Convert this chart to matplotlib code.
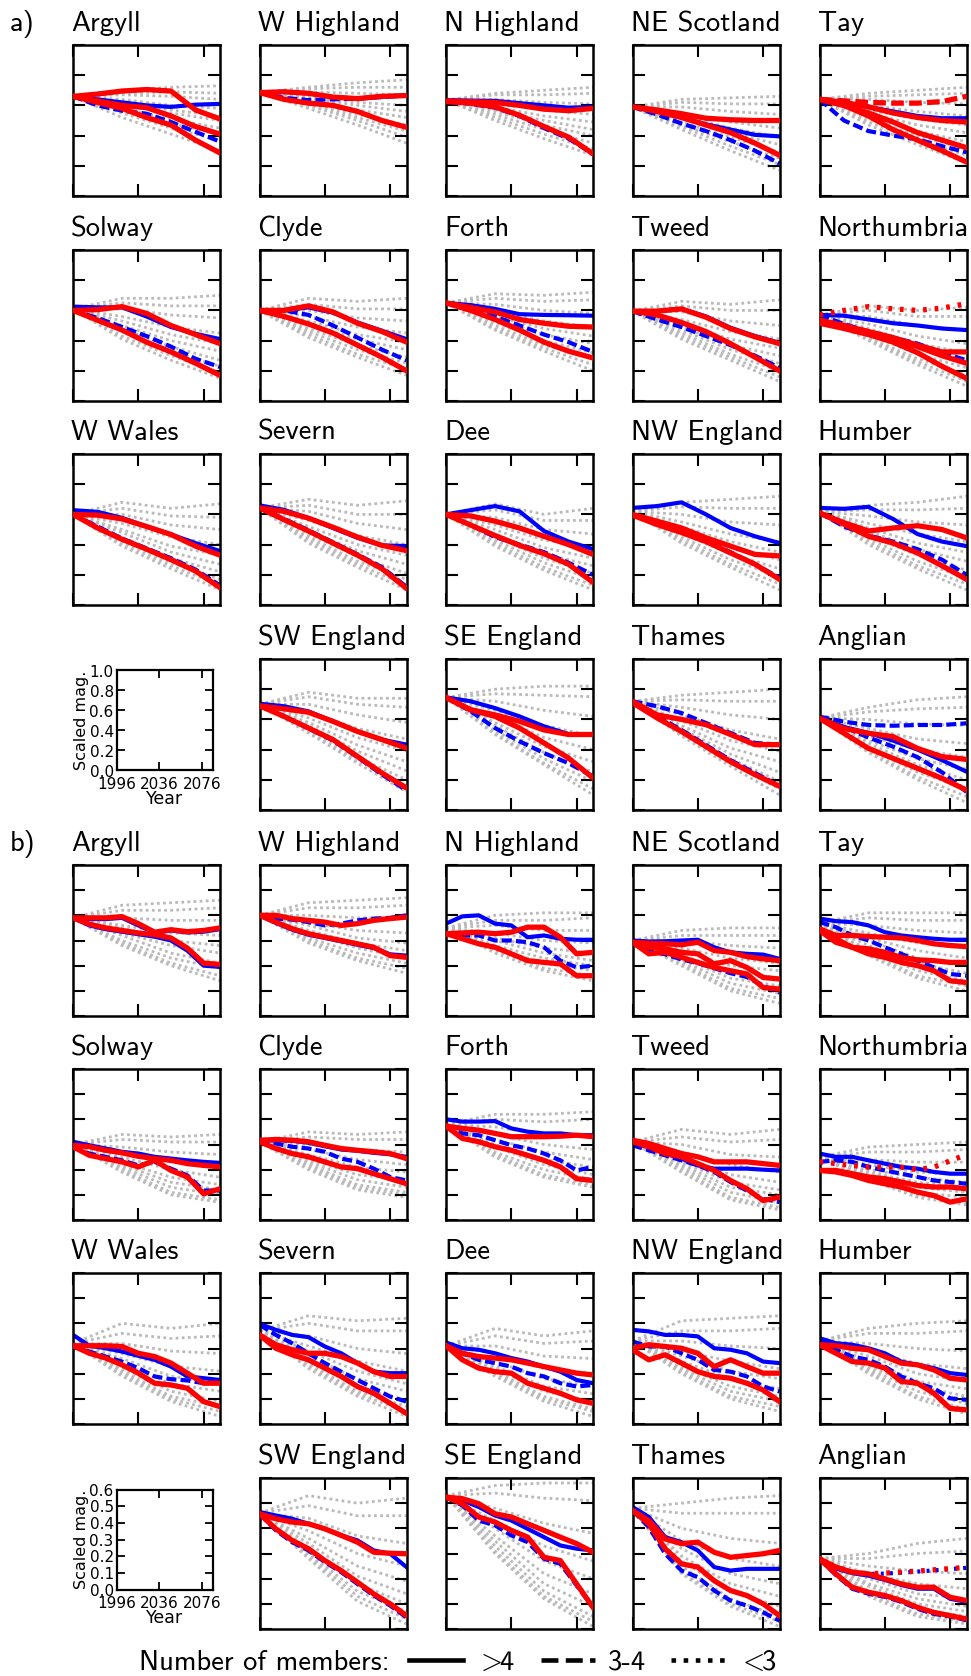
import matplotlib
matplotlib.use("Agg")
import matplotlib.pyplot as plt
from matplotlib.lines import Line2D

plt.rcParams["mathtext.fontset"] = "cm"

# ---------------------------------------------------------------- data
years_a = [1996, 2011, 2026, 2041, 2056, 2071, 2086]
years_b = [1996, 2006, 2016, 2026, 2036, 2046, 2056, 2066, 2076, 2086]
years_grey = [1996, 2026, 2056, 2086]

regions = ["Argyll", "W Highland", "N Highland", "NE Scotland", "Tay",
           "Solway", "Clyde", "Forth", "Tweed", "Northumbria",
           "W Wales", "Severn", "Dee", "NW England", "Humber",
           "SW England", "SE England", "Thames", "Anglian"]

member_classes = [">4", "3-4", "<3"]
member_labels = [r"$>\!\!$4", "3-4", r"$<\!\!$3"]

yticks_a = [0.0, 0.2, 0.4, 0.6, 0.8, 1.0]
yticks_b = [0.0, 0.1, 0.2, 0.3, 0.4, 0.5, 0.6]
xticks = [1996, 2036, 2076]

# ---- a) panels: (members, values at years_a)
a_argyll_red = [(">4", [0.66, 0.675, 0.695, 0.705, 0.695, 0.57, 0.51]),
                (">4", [0.66, 0.63, 0.6, 0.585, 0.53, 0.46, 0.41]),
                (">4", [0.66, 0.62, 0.58, 0.52, 0.47, 0.37, 0.285])]
a_argyll_blue = [(">4", [0.66, 0.64, 0.62, 0.6, 0.59, 0.605, 0.61]),
                 ("3-4", [0.66, 0.6, 0.565, 0.545, 0.49, 0.425, 0.36])]
a_argyll_grey = [[0.66, 0.70, 0.72, 0.73], [0.66, 0.68, 0.69, 0.68], [0.66, 0.67, 0.66, 0.64],
                 [0.66, 0.64, 0.6, 0.58], [0.66, 0.62, 0.57, 0.53], [0.66, 0.6, 0.55, 0.5],
                 [0.66, 0.58, 0.51, 0.45], [0.66, 0.57, 0.48, 0.41], [0.66, 0.55, 0.45, 0.37],
                 [0.66, 0.52, 0.41, 0.3]]

a_whighland_red = [(">4", [0.685, 0.69, 0.68, 0.655, 0.645, 0.66, 0.665]),
                   (">4", [0.685, 0.64, 0.615, 0.6, 0.56, 0.5, 0.455])]
a_whighland_blue = [(">4", [0.685, 0.69, 0.68, 0.655, 0.645, 0.66, 0.665]),
                    ("3-4", [0.685, 0.65, 0.635, 0.64, 0.645, 0.655, 0.665])]
a_whighland_grey = [[0.685, 0.72, 0.75, 0.77], [0.685, 0.71, 0.72, 0.72], [0.685, 0.69, 0.68, 0.67],
                    [0.685, 0.66, 0.62, 0.6], [0.685, 0.65, 0.6, 0.56], [0.685, 0.64, 0.57, 0.52],
                    [0.685, 0.62, 0.54, 0.47], [0.685, 0.61, 0.52, 0.43], [0.685, 0.6, 0.5, 0.39],
                    [0.685, 0.58, 0.47, 0.35]]

a_nhighland_red = [(">4", [0.63, 0.625, 0.62, 0.6, 0.575, 0.565, 0.58]),
                   (">4", [0.625, 0.615, 0.59, 0.535, 0.46, 0.39, 0.28])]
a_nhighland_blue = [(">4", [0.635, 0.632, 0.63, 0.615, 0.6, 0.585, 0.59]),
                    ("3-4", [0.63, 0.61, 0.585, 0.53, 0.45, 0.38, 0.28])]
a_nhighland_grey = [[0.635, 0.68, 0.7, 0.72], [0.635, 0.67, 0.67, 0.68], [0.635, 0.64, 0.62, 0.61],
                    [0.635, 0.61, 0.57, 0.54], [0.635, 0.59, 0.53, 0.49], [0.635, 0.57, 0.5, 0.44],
                    [0.635, 0.56, 0.47, 0.4], [0.635, 0.54, 0.44, 0.35], [0.635, 0.52, 0.41, 0.31],
                    [0.635, 0.5, 0.38, 0.27]]

a_nescotland_red = [(">4", [0.59, 0.57, 0.545, 0.515, 0.505, 0.5, 0.5]),
                    (">4", [0.59, 0.56, 0.52, 0.47, 0.42, 0.35, 0.27])]
a_nescotland_blue = [(">4", [0.59, 0.56, 0.52, 0.475, 0.44, 0.405, 0.395]),
                     ("3-4", [0.59, 0.54, 0.48, 0.43, 0.37, 0.3, 0.215])]
a_nescotland_grey = [[0.59, 0.64, 0.65, 0.66], [0.59, 0.62, 0.61, 0.61], [0.59, 0.59, 0.56, 0.54],
                     [0.59, 0.55, 0.49, 0.45], [0.59, 0.53, 0.45, 0.39], [0.59, 0.51, 0.42, 0.34],
                     [0.59, 0.49, 0.39, 0.29], [0.59, 0.47, 0.36, 0.25], [0.59, 0.46, 0.33, 0.21],
                     [0.59, 0.44, 0.3, 0.17]]

a_tay_red = [("3-4", [0.64, 0.63, 0.62, 0.615, 0.615, 0.625, 0.66]),
             (">4", [0.64, 0.62, 0.59, 0.55, 0.52, 0.5, 0.49]),
             (">4", [0.64, 0.6, 0.55, 0.49, 0.42, 0.37, 0.32]),
             (">4", [0.64, 0.6, 0.53, 0.44, 0.37, 0.3, 0.225])]
a_tay_blue = [(">4", [0.64, 0.62, 0.59, 0.56, 0.53, 0.515, 0.515]),
              ("3-4", [0.64, 0.5, 0.43, 0.4, 0.375, 0.33, 0.29])]
a_tay_grey = [[0.64, 0.68, 0.7, 0.72], [0.64, 0.66, 0.67, 0.68], [0.64, 0.64, 0.62, 0.61],
              [0.64, 0.6, 0.56, 0.53], [0.64, 0.57, 0.51, 0.47], [0.64, 0.55, 0.47, 0.42],
              [0.64, 0.53, 0.43, 0.36], [0.64, 0.51, 0.4, 0.31], [0.64, 0.49, 0.37, 0.27],
              [0.64, 0.47, 0.34, 0.22]]

a_solway_red = [(">4", [0.6, 0.605, 0.625, 0.58, 0.5, 0.44, 0.38]),
                (">4", [0.6, 0.535, 0.47, 0.39, 0.325, 0.25, 0.17])]
a_solway_blue = [(">4", [0.625, 0.62, 0.62, 0.56, 0.49, 0.445, 0.41]),
                 ("3-4", [0.6, 0.55, 0.49, 0.43, 0.36, 0.28, 0.225])]
a_solway_grey = [[0.61, 0.68, 0.68, 0.7], [0.61, 0.65, 0.63, 0.63], [0.61, 0.61, 0.57, 0.55],
                 [0.61, 0.56, 0.49, 0.45], [0.61, 0.53, 0.44, 0.38], [0.61, 0.5, 0.4, 0.33],
                 [0.61, 0.48, 0.36, 0.27], [0.61, 0.46, 0.33, 0.23], [0.61, 0.43, 0.3, 0.19],
                 [0.61, 0.41, 0.27, 0.15]]

a_clyde_red = [(">4", [0.6, 0.6, 0.63, 0.59, 0.515, 0.46, 0.39]),
               (">4", [0.6, 0.56, 0.51, 0.45, 0.37, 0.29, 0.2])]
a_clyde_blue = [(">4", [0.6, 0.6, 0.62, 0.585, 0.52, 0.465, 0.41]),
                ("3-4", [0.6, 0.6, 0.57, 0.5, 0.42, 0.34, 0.27])]
a_clyde_grey = [[0.6, 0.68, 0.66, 0.68], [0.6, 0.64, 0.61, 0.61], [0.6, 0.6, 0.55, 0.53],
                [0.6, 0.56, 0.49, 0.45], [0.6, 0.53, 0.44, 0.39], [0.6, 0.51, 0.41, 0.34],
                [0.6, 0.48, 0.37, 0.29], [0.6, 0.46, 0.34, 0.25], [0.6, 0.44, 0.31, 0.21],
                [0.6, 0.42, 0.29, 0.17]]

a_forth_red = [(">4", [0.65, 0.62, 0.59, 0.54, 0.515, 0.495, 0.49]),
               (">4", [0.65, 0.6, 0.54, 0.47, 0.39, 0.33, 0.285])]
a_forth_blue = [(">4", [0.65, 0.635, 0.61, 0.575, 0.57, 0.568, 0.565]),
                ("3-4", [0.65, 0.61, 0.56, 0.5, 0.44, 0.39, 0.325])]
a_forth_grey = [[0.65, 0.71, 0.7, 0.72], [0.65, 0.68, 0.66, 0.67], [0.65, 0.64, 0.6, 0.58],
                [0.65, 0.59, 0.53, 0.49], [0.65, 0.56, 0.48, 0.43], [0.65, 0.54, 0.44, 0.38],
                [0.65, 0.52, 0.4, 0.32], [0.65, 0.5, 0.37, 0.28], [0.65, 0.48, 0.35, 0.24],
                [0.65, 0.47, 0.33, 0.2]]

a_tweed_red = [(">4", [0.595, 0.595, 0.61, 0.555, 0.48, 0.425, 0.38]),
               (">4", [0.595, 0.57, 0.52, 0.46, 0.38, 0.29, 0.2])]
a_tweed_blue = [(">4", [0.595, 0.595, 0.61, 0.56, 0.485, 0.43, 0.385]),
                ("3-4", [0.595, 0.54, 0.49, 0.43, 0.37, 0.3, 0.22])]
a_tweed_grey = [[0.595, 0.66, 0.64, 0.67], [0.595, 0.63, 0.6, 0.6], [0.595, 0.59, 0.53, 0.5],
                [0.595, 0.54, 0.46, 0.41], [0.595, 0.51, 0.41, 0.35], [0.595, 0.49, 0.37, 0.3],
                [0.595, 0.47, 0.34, 0.25], [0.595, 0.45, 0.31, 0.2], [0.595, 0.43, 0.29, 0.16],
                [0.595, 0.41, 0.27, 0.13]]

a_northumbria_red = [("<3", [0.57, 0.6, 0.625, 0.61, 0.6, 0.615, 0.645]),
                     (">4", [0.535, 0.5, 0.46, 0.42, 0.37, 0.325, 0.325]),
                     (">4", [0.525, 0.49, 0.45, 0.41, 0.36, 0.3, 0.25]),
                     (">4", [0.515, 0.48, 0.44, 0.39, 0.32, 0.23, 0.15])]
a_northumbria_blue = [(">4", [0.57, 0.565, 0.54, 0.515, 0.5, 0.48, 0.47]),
                      ("3-4", [0.57, 0.51, 0.46, 0.42, 0.38, 0.32, 0.27])]
a_northumbria_grey = [[0.57, 0.63, 0.6, 0.62], [0.57, 0.6, 0.56, 0.56], [0.57, 0.56, 0.5, 0.47],
                      [0.57, 0.51, 0.43, 0.38], [0.57, 0.48, 0.38, 0.32], [0.57, 0.46, 0.35, 0.27],
                      [0.57, 0.44, 0.31, 0.22], [0.57, 0.42, 0.28, 0.17], [0.57, 0.41, 0.26, 0.13],
                      [0.57, 0.4, 0.24, 0.1]]

a_wwales_red = [(">4", [0.6, 0.595, 0.57, 0.52, 0.467, 0.39, 0.33]),
                (">4", [0.6, 0.51, 0.435, 0.37, 0.3, 0.225, 0.115])]
a_wwales_blue = [(">4", [0.628, 0.617, 0.577, 0.52, 0.467, 0.41, 0.357]),
                 ("3-4", [0.6, 0.52, 0.44, 0.375, 0.31, 0.235, 0.13])]
a_wwales_grey = [[0.6, 0.68, 0.64, 0.67], [0.6, 0.64, 0.59, 0.58], [0.6, 0.6, 0.53, 0.5],
                 [0.6, 0.54, 0.45, 0.4], [0.6, 0.5, 0.39, 0.33], [0.6, 0.48, 0.35, 0.27],
                 [0.6, 0.45, 0.31, 0.22], [0.6, 0.43, 0.28, 0.17], [0.6, 0.41, 0.26, 0.13],
                 [0.6, 0.39, 0.24, 0.1]]

a_severn_red = [(">4", [0.643, 0.62, 0.575, 0.515, 0.45, 0.395, 0.36]),
                (">4", [0.643, 0.565, 0.49, 0.41, 0.33, 0.24, 0.11])]
a_severn_blue = [(">4", [0.66, 0.63, 0.575, 0.51, 0.445, 0.395, 0.39]),
                 ("3-4", [0.643, 0.57, 0.495, 0.415, 0.335, 0.25, 0.12])]
a_severn_grey = [[0.643, 0.7, 0.66, 0.69], [0.643, 0.66, 0.6, 0.6], [0.643, 0.62, 0.54, 0.5],
                 [0.643, 0.56, 0.46, 0.4], [0.643, 0.52, 0.4, 0.33], [0.643, 0.49, 0.36, 0.27],
                 [0.643, 0.47, 0.32, 0.21], [0.643, 0.45, 0.29, 0.17], [0.643, 0.43, 0.27, 0.13],
                 [0.643, 0.41, 0.25, 0.1]]

a_dee_red = [(">4", [0.6, 0.59, 0.555, 0.51, 0.455, 0.4, 0.335]),
             (">4", [0.6, 0.53, 0.46, 0.395, 0.34, 0.27, 0.15])]
a_dee_blue = [(">4", [0.6, 0.628, 0.655, 0.62, 0.49, 0.42, 0.37]),
              ("3-4", [0.6, 0.53, 0.45, 0.4, 0.35, 0.28, 0.2])]
a_dee_grey = [[0.6, 0.67, 0.6, 0.64], [0.6, 0.63, 0.56, 0.56], [0.6, 0.58, 0.5, 0.47],
              [0.6, 0.53, 0.43, 0.38], [0.6, 0.5, 0.38, 0.31], [0.6, 0.47, 0.34, 0.26],
              [0.6, 0.45, 0.31, 0.21], [0.6, 0.43, 0.28, 0.17], [0.6, 0.41, 0.25, 0.13],
              [0.6, 0.39, 0.23, 0.1]]

a_nwengland_red = [(">4", [0.6, 0.555, 0.51, 0.445, 0.39, 0.335, 0.325]),
                   (">4", [0.595, 0.533, 0.48, 0.42, 0.345, 0.27, 0.17])]
a_nwengland_blue = [(">4", [0.643, 0.655, 0.68, 0.6, 0.51, 0.455, 0.41]),
                    ("3-4", [0.6, 0.54, 0.485, 0.425, 0.35, 0.27, 0.18])]
a_nwengland_grey = [[0.62, 0.68, 0.7, 0.72], [0.62, 0.65, 0.64, 0.64], [0.62, 0.6, 0.55, 0.53],
                    [0.62, 0.55, 0.47, 0.42], [0.62, 0.52, 0.42, 0.35], [0.62, 0.5, 0.38, 0.3],
                    [0.62, 0.47, 0.34, 0.24], [0.62, 0.45, 0.3, 0.19], [0.62, 0.43, 0.27, 0.14],
                    [0.62, 0.41, 0.25, 0.1]]

a_humber_red = [(">4", [0.61, 0.545, 0.49, 0.51, 0.525, 0.5, 0.445]),
                (">4", [0.61, 0.535, 0.455, 0.41, 0.345, 0.26, 0.17])]
a_humber_blue = [(">4", [0.643, 0.637, 0.65, 0.57, 0.47, 0.42, 0.39]),
                 ("3-4", [0.61, 0.52, 0.46, 0.42, 0.37, 0.3, 0.2])]
a_humber_grey = [[0.62, 0.66, 0.68, 0.72], [0.62, 0.63, 0.63, 0.64], [0.62, 0.59, 0.55, 0.53],
                 [0.62, 0.54, 0.47, 0.42], [0.62, 0.51, 0.41, 0.35], [0.62, 0.49, 0.37, 0.29],
                 [0.62, 0.46, 0.33, 0.23], [0.62, 0.44, 0.29, 0.18], [0.62, 0.42, 0.26, 0.14],
                 [0.62, 0.4, 0.24, 0.1]]

a_swengland_red = [(">4", [0.69, 0.67, 0.647, 0.587, 0.52, 0.466, 0.41]),
                   (">4", [0.69, 0.62, 0.543, 0.466, 0.355, 0.245, 0.146])]
a_swengland_blue = [(">4", [0.704, 0.687, 0.653, 0.587, 0.52, 0.466, 0.433]),
                    ("3-4", [0.69, 0.62, 0.54, 0.46, 0.35, 0.235, 0.13])]
a_swengland_grey = [[0.7, 0.78, 0.74, 0.74], [0.7, 0.75, 0.7, 0.68], [0.7, 0.7, 0.63, 0.58],
                    [0.7, 0.65, 0.54, 0.47], [0.7, 0.61, 0.48, 0.39], [0.7, 0.58, 0.43, 0.32],
                    [0.7, 0.56, 0.39, 0.26], [0.7, 0.54, 0.35, 0.2], [0.7, 0.52, 0.33, 0.16],
                    [0.7, 0.51, 0.31, 0.12]]

a_seengland_red = [(">4", [0.745, 0.664, 0.63, 0.587, 0.53, 0.5, 0.5]),
                   (">4", [0.745, 0.664, 0.62, 0.543, 0.444, 0.344, 0.212])]
a_seengland_blue = [(">4", [0.746, 0.72, 0.675, 0.62, 0.554, 0.503, 0.5]),
                    ("3-4", [0.745, 0.655, 0.543, 0.455, 0.377, 0.31, 0.223])]
a_seengland_grey = [[0.745, 0.8, 0.82, 0.82], [0.745, 0.77, 0.76, 0.75], [0.745, 0.72, 0.66, 0.62],
                    [0.745, 0.66, 0.56, 0.49], [0.745, 0.62, 0.48, 0.4], [0.745, 0.58, 0.42, 0.32],
                    [0.745, 0.56, 0.38, 0.25], [0.745, 0.53, 0.34, 0.19], [0.745, 0.51, 0.31, 0.14],
                    [0.745, 0.5, 0.3, 0.1]]

a_thames_red = [(">4", [0.72, 0.63, 0.6, 0.565, 0.5, 0.433, 0.433]),
                (">4", [0.71, 0.61, 0.52, 0.42, 0.32, 0.234, 0.157])]
a_thames_blue = [("3-4", [0.72, 0.687, 0.642, 0.576, 0.51, 0.444, 0.433]),
                 ("3-4", [0.72, 0.62, 0.53, 0.43, 0.33, 0.245, 0.16])]
a_thames_grey = [[0.72, 0.76, 0.78, 0.8], [0.72, 0.73, 0.72, 0.72], [0.72, 0.68, 0.63, 0.6],
                 [0.72, 0.63, 0.53, 0.47], [0.72, 0.59, 0.46, 0.39], [0.72, 0.56, 0.41, 0.32],
                 [0.72, 0.54, 0.37, 0.25], [0.72, 0.52, 0.34, 0.19], [0.72, 0.5, 0.31, 0.14],
                 [0.72, 0.49, 0.29, 0.1]]

a_anglian_red = [(">4", [0.607, 0.54, 0.508, 0.486, 0.408, 0.353, 0.335]),
                 (">4", [0.607, 0.508, 0.408, 0.342, 0.276, 0.21, 0.132])]
a_anglian_blue = [("3-4", [0.618, 0.585, 0.563, 0.558, 0.563, 0.563, 0.574]),
                  (">4", [0.607, 0.55, 0.51, 0.46, 0.4, 0.33, 0.254]),
                  ("3-4", [0.607, 0.55, 0.48, 0.42, 0.35, 0.25, 0.12])]
a_anglian_grey = [[0.61, 0.68, 0.73, 0.75], [0.61, 0.65, 0.67, 0.68], [0.61, 0.6, 0.57, 0.56],
                  [0.61, 0.54, 0.47, 0.44], [0.61, 0.49, 0.4, 0.35], [0.61, 0.46, 0.34, 0.27],
                  [0.61, 0.44, 0.3, 0.2], [0.61, 0.41, 0.25, 0.14], [0.61, 0.39, 0.22, 0.09],
                  [0.61, 0.38, 0.2, 0.05]]

# ---- b) panels: (members, values at years_b)
b_argyll_red = [(">4", [0.39, 0.39, 0.39, 0.395, 0.367, 0.333, 0.343, 0.335, 0.34, 0.35]),
                (">4", [0.39, 0.365, 0.35, 0.34, 0.33, 0.323, 0.31, 0.27, 0.21, 0.205])]
b_argyll_blue = [(">4", [0.39, 0.385, 0.385, 0.39, 0.36, 0.33, 0.34, 0.332, 0.335, 0.345]),
                 (">4", [0.39, 0.36, 0.345, 0.335, 0.325, 0.315, 0.3, 0.26, 0.2, 0.195])]
b_argyll_grey = [[0.39, 0.44, 0.45, 0.46], [0.39, 0.42, 0.42, 0.43], [0.39, 0.39, 0.38, 0.38],
                 [0.39, 0.36, 0.33, 0.32], [0.39, 0.35, 0.3, 0.28], [0.39, 0.33, 0.28, 0.25],
                 [0.39, 0.32, 0.25, 0.21], [0.39, 0.3, 0.23, 0.19], [0.39, 0.29, 0.21, 0.16],
                 [0.39, 0.28, 0.2, 0.14]]

b_whighland_red = [(">4", [0.4, 0.4, 0.387, 0.38, 0.373, 0.36, 0.367, 0.38, 0.387, 0.393]),
                   (">4", [0.4, 0.373, 0.347, 0.327, 0.313, 0.3, 0.287, 0.273, 0.24, 0.233])]
b_whighland_blue = [("3-4", [0.4, 0.387, 0.383, 0.373, 0.36, 0.367, 0.38, 0.387, 0.39, 0.4]),
                    (">4", [0.4, 0.37, 0.343, 0.323, 0.31, 0.297, 0.283, 0.27, 0.245, 0.24])]
b_whighland_grey = [[0.4, 0.45, 0.46, 0.47], [0.4, 0.43, 0.43, 0.44], [0.4, 0.4, 0.39, 0.39],
                    [0.4, 0.37, 0.34, 0.33], [0.4, 0.36, 0.31, 0.29], [0.4, 0.34, 0.29, 0.26],
                    [0.4, 0.33, 0.27, 0.23], [0.4, 0.31, 0.25, 0.21], [0.4, 0.3, 0.23, 0.19],
                    [0.4, 0.29, 0.22, 0.17]]

b_nhighland_red = [(">4", [0.327, 0.33, 0.333, 0.327, 0.333, 0.353, 0.353, 0.313, 0.247, 0.253]),
                   (">4", [0.327, 0.307, 0.287, 0.273, 0.247, 0.22, 0.213, 0.207, 0.16, 0.16])]
b_nhighland_blue = [(">4", [0.367, 0.396, 0.4, 0.367, 0.36, 0.313, 0.32, 0.307, 0.303, 0.303]),
                    ("3-4", [0.327, 0.32, 0.32, 0.3, 0.3, 0.293, 0.273, 0.22, 0.193, 0.2])]
b_nhighland_grey = [[0.35, 0.4, 0.41, 0.41], [0.35, 0.38, 0.38, 0.39], [0.35, 0.36, 0.34, 0.34],
                    [0.35, 0.33, 0.3, 0.29], [0.35, 0.31, 0.27, 0.25], [0.35, 0.3, 0.25, 0.22],
                    [0.35, 0.28, 0.23, 0.2], [0.35, 0.27, 0.21, 0.18], [0.35, 0.26, 0.19, 0.16],
                    [0.35, 0.25, 0.18, 0.14]]

b_nescotland_red = [(">4", [0.293, 0.289, 0.287, 0.283, 0.293, 0.26, 0.253, 0.236, 0.227, 0.22]),
                    (">4", [0.293, 0.273, 0.267, 0.253, 0.247, 0.207, 0.22, 0.193, 0.153, 0.147]),
                    (">4", [0.293, 0.247, 0.253, 0.233, 0.213, 0.193, 0.18, 0.167, 0.113, 0.107])]
b_nescotland_blue = [(">4", [0.3, 0.296, 0.297, 0.3, 0.303, 0.273, 0.253, 0.247, 0.244, 0.227]),
                     ("3-4", [0.3, 0.26, 0.245, 0.225, 0.21, 0.19, 0.17, 0.155, 0.12, 0.093])]
b_nescotland_grey = [[0.3, 0.34, 0.35, 0.35], [0.3, 0.32, 0.32, 0.32], [0.3, 0.3, 0.28, 0.27],
                     [0.3, 0.27, 0.23, 0.21], [0.3, 0.26, 0.2, 0.18], [0.3, 0.24, 0.18, 0.15],
                     [0.3, 0.23, 0.15, 0.12], [0.3, 0.22, 0.13, 0.09], [0.3, 0.21, 0.11, 0.07],
                     [0.3, 0.2, 0.1, 0.05]]

b_tay_red = [(">4", [0.347, 0.32, 0.32, 0.316, 0.313, 0.31, 0.3, 0.287, 0.28, 0.276]),
             (">4", [0.34, 0.307, 0.273, 0.267, 0.253, 0.233, 0.223, 0.22, 0.213, 0.213]),
             (">4", [0.34, 0.293, 0.273, 0.247, 0.233, 0.213, 0.2, 0.18, 0.14, 0.133])]
b_tay_blue = [(">4", [0.387, 0.377, 0.373, 0.36, 0.333, 0.32, 0.313, 0.307, 0.303, 0.303]),
              ("3-4", [0.373, 0.353, 0.32, 0.3, 0.273, 0.247, 0.22, 0.193, 0.167, 0.16])]
b_tay_grey = [[0.37, 0.41, 0.41, 0.41], [0.37, 0.39, 0.38, 0.38], [0.37, 0.36, 0.34, 0.33],
              [0.37, 0.33, 0.29, 0.27], [0.37, 0.31, 0.26, 0.23], [0.37, 0.3, 0.23, 0.2],
              [0.37, 0.28, 0.21, 0.17], [0.37, 0.26, 0.18, 0.14], [0.37, 0.25, 0.16, 0.12],
              [0.37, 0.24, 0.15, 0.1]]

b_solway_red = [(">4", [0.297, 0.291, 0.277, 0.267, 0.253, 0.244, 0.237, 0.224, 0.217, 0.211]),
                (">4", [0.291, 0.257, 0.244, 0.231, 0.211, 0.237, 0.197, 0.171, 0.104, 0.124])]
b_solway_blue = [(">4", [0.311, 0.297, 0.284, 0.271, 0.264, 0.251, 0.244, 0.237, 0.231, 0.227]),
                 ("3-4", [0.291, 0.264, 0.251, 0.237, 0.217, 0.231, 0.204, 0.177, 0.117, 0.117])]
b_solway_grey = [[0.3, 0.34, 0.33, 0.34], [0.3, 0.32, 0.31, 0.31], [0.3, 0.29, 0.27, 0.26],
                 [0.3, 0.27, 0.23, 0.21], [0.3, 0.25, 0.2, 0.17], [0.3, 0.23, 0.17, 0.14],
                 [0.3, 0.22, 0.15, 0.12], [0.3, 0.21, 0.13, 0.1], [0.3, 0.2, 0.11, 0.08],
                 [0.3, 0.19, 0.1, 0.07]]

b_clyde_red = [(">4", [0.317, 0.32, 0.317, 0.311, 0.297, 0.284, 0.277, 0.271, 0.264, 0.244]),
               (">4", [0.311, 0.284, 0.264, 0.251, 0.231, 0.211, 0.204, 0.184, 0.164, 0.144])]
b_clyde_blue = [(">4", [0.315, 0.317, 0.315, 0.307, 0.293, 0.28, 0.275, 0.267, 0.261, 0.251]),
                ("3-4", [0.311, 0.304, 0.291, 0.284, 0.271, 0.244, 0.231, 0.204, 0.171, 0.157])]
b_clyde_grey = [[0.31, 0.35, 0.34, 0.35], [0.31, 0.33, 0.32, 0.32], [0.31, 0.3, 0.28, 0.27],
                [0.31, 0.28, 0.24, 0.22], [0.31, 0.26, 0.21, 0.19], [0.31, 0.24, 0.18, 0.16],
                [0.31, 0.23, 0.16, 0.13], [0.31, 0.22, 0.14, 0.11], [0.31, 0.21, 0.13, 0.1],
                [0.31, 0.2, 0.12, 0.09]]

b_forth_red = [(">4", [0.373, 0.364, 0.357, 0.344, 0.331, 0.331, 0.331, 0.333, 0.337, 0.331]),
               (">4", [0.373, 0.324, 0.311, 0.291, 0.277, 0.257, 0.237, 0.211, 0.164, 0.157])]
b_forth_blue = [(">4", [0.4, 0.391, 0.391, 0.393, 0.364, 0.351, 0.344, 0.344, 0.337, 0.337]),
                ("3-4", [0.377, 0.344, 0.337, 0.317, 0.297, 0.284, 0.264, 0.237, 0.197, 0.211])]
b_forth_grey = [[0.38, 0.42, 0.42, 0.43], [0.38, 0.4, 0.39, 0.4], [0.38, 0.37, 0.34, 0.33],
                [0.38, 0.34, 0.3, 0.28], [0.38, 0.32, 0.27, 0.24], [0.38, 0.3, 0.24, 0.21],
                [0.38, 0.29, 0.22, 0.18], [0.38, 0.27, 0.2, 0.16], [0.38, 0.26, 0.18, 0.14],
                [0.38, 0.25, 0.17, 0.13]]

b_tweed_red = [(">4", [0.317, 0.304, 0.284, 0.264, 0.251, 0.231, 0.231, 0.231, 0.224, 0.217]),
               (">4", [0.311, 0.291, 0.264, 0.251, 0.224, 0.197, 0.157, 0.124, 0.077, 0.091])]
b_tweed_blue = [(">4", [0.304, 0.291, 0.264, 0.244, 0.217, 0.204, 0.204, 0.204, 0.2, 0.197]),
                ("3-4", [0.297, 0.277, 0.257, 0.237, 0.217, 0.191, 0.151, 0.117, 0.084, 0.071])]
b_tweed_grey = [[0.31, 0.36, 0.34, 0.36], [0.31, 0.33, 0.31, 0.32], [0.31, 0.3, 0.26, 0.25],
                [0.31, 0.27, 0.22, 0.19], [0.31, 0.25, 0.18, 0.15], [0.31, 0.23, 0.15, 0.12],
                [0.31, 0.22, 0.13, 0.1], [0.31, 0.21, 0.11, 0.07], [0.31, 0.2, 0.09, 0.05],
                [0.31, 0.19, 0.08, 0.04]]

b_northumbria_red = [("<3", [0.231, 0.224, 0.217, 0.21, 0.21, 0.21, 0.2, 0.21, 0.235, 0.26]),
                     (">4", [0.197, 0.197, 0.184, 0.171, 0.164, 0.151, 0.137, 0.131, 0.131, 0.124]),
                     (">4", [0.197, 0.191, 0.177, 0.157, 0.144, 0.131, 0.111, 0.097, 0.071, 0.084])]
b_northumbria_blue = [(">4", [0.264, 0.251, 0.251, 0.237, 0.224, 0.211, 0.204, 0.191, 0.184, 0.184]),
                      ("3-4", [0.231, 0.237, 0.231, 0.211, 0.197, 0.184, 0.171, 0.157, 0.151, 0.144])]
b_northumbria_grey = [[0.25, 0.29, 0.3, 0.31], [0.25, 0.27, 0.27, 0.28], [0.25, 0.24, 0.23, 0.23],
                      [0.25, 0.22, 0.19, 0.18], [0.25, 0.2, 0.17, 0.15], [0.25, 0.19, 0.15, 0.13],
                      [0.25, 0.18, 0.13, 0.11], [0.25, 0.17, 0.11, 0.09], [0.25, 0.16, 0.1, 0.07],
                      [0.25, 0.16, 0.09, 0.06]]

b_wwales_red = [(">4", [0.311, 0.311, 0.311, 0.308, 0.281, 0.268, 0.242, 0.202, 0.162, 0.162]),
                (">4", [0.311, 0.281, 0.262, 0.235, 0.202, 0.162, 0.155, 0.142, 0.089, 0.069])]
b_wwales_blue = [(">4", [0.354, 0.311, 0.301, 0.288, 0.271, 0.255, 0.228, 0.189, 0.182, 0.175]),
                 ("3-4", [0.308, 0.288, 0.268, 0.248, 0.222, 0.189, 0.178, 0.173, 0.162, 0.169])]
b_wwales_grey = [[0.32, 0.4, 0.38, 0.4], [0.32, 0.36, 0.34, 0.35], [0.32, 0.32, 0.29, 0.28],
                 [0.32, 0.28, 0.23, 0.21], [0.32, 0.26, 0.19, 0.16], [0.32, 0.24, 0.16, 0.13],
                 [0.32, 0.22, 0.13, 0.09], [0.32, 0.21, 0.11, 0.07], [0.32, 0.2, 0.1, 0.05],
                 [0.32, 0.19, 0.09, 0.03]]

b_severn_red = [(">4", [0.354, 0.315, 0.295, 0.281, 0.281, 0.268, 0.242, 0.208, 0.189, 0.189]),
                (">4", [0.354, 0.301, 0.275, 0.255, 0.222, 0.189, 0.149, 0.122, 0.082, 0.042])]
b_severn_blue = [(">4", [0.398, 0.374, 0.354, 0.345, 0.308, 0.281, 0.242, 0.208, 0.202, 0.202]),
                 ("3-4", [0.394, 0.354, 0.321, 0.281, 0.242, 0.208, 0.175, 0.142, 0.109, 0.089])]
b_severn_grey = [[0.37, 0.43, 0.41, 0.42], [0.37, 0.4, 0.37, 0.37], [0.37, 0.35, 0.3, 0.28],
                 [0.37, 0.31, 0.25, 0.21], [0.37, 0.29, 0.21, 0.16], [0.37, 0.27, 0.18, 0.13],
                 [0.37, 0.25, 0.15, 0.09], [0.37, 0.24, 0.13, 0.07], [0.37, 0.23, 0.12, 0.05],
                 [0.37, 0.22, 0.11, 0.03]]

b_dee_red = [(">4", [0.311, 0.281, 0.268, 0.262, 0.255, 0.242, 0.228, 0.215, 0.202, 0.195]),
             (">4", [0.311, 0.255, 0.222, 0.208, 0.202, 0.162, 0.142, 0.122, 0.096, 0.082])]
b_dee_blue = [(">4", [0.324, 0.301, 0.295, 0.281, 0.262, 0.248, 0.228, 0.208, 0.175, 0.162]),
              ("3-4", [0.315, 0.281, 0.255, 0.242, 0.228, 0.202, 0.189, 0.162, 0.149, 0.155])]
b_dee_grey = [[0.31, 0.38, 0.35, 0.37], [0.31, 0.35, 0.32, 0.33], [0.31, 0.31, 0.27, 0.26],
              [0.31, 0.28, 0.22, 0.2], [0.31, 0.25, 0.18, 0.15], [0.31, 0.23, 0.15, 0.12],
              [0.31, 0.22, 0.13, 0.09], [0.31, 0.21, 0.11, 0.06], [0.31, 0.2, 0.1, 0.05],
              [0.31, 0.19, 0.09, 0.03]]

b_nwengland_red = [(">4", [0.301, 0.315, 0.308, 0.301, 0.281, 0.228, 0.255, 0.228, 0.202, 0.202]),
                   (">4", [0.295, 0.255, 0.275, 0.242, 0.208, 0.189, 0.182, 0.162, 0.135, 0.089])]
b_nwengland_blue = [(">4", [0.374, 0.368, 0.354, 0.354, 0.348, 0.301, 0.295, 0.281, 0.248, 0.242]),
                    ("3-4", [0.328, 0.308, 0.308, 0.281, 0.255, 0.215, 0.208, 0.189, 0.149, 0.129])]
b_nwengland_grey = [[0.33, 0.41, 0.42, 0.43], [0.33, 0.37, 0.37, 0.38], [0.33, 0.33, 0.31, 0.3],
                    [0.33, 0.29, 0.25, 0.22], [0.33, 0.27, 0.21, 0.18], [0.33, 0.25, 0.18, 0.14],
                    [0.33, 0.23, 0.15, 0.11], [0.33, 0.22, 0.13, 0.09], [0.33, 0.21, 0.11, 0.07],
                    [0.33, 0.2, 0.1, 0.05]]

b_humber_red = [(">4", [0.315, 0.311, 0.301, 0.295, 0.268, 0.242, 0.235, 0.215, 0.182, 0.175]),
                (">4", [0.315, 0.281, 0.248, 0.242, 0.222, 0.169, 0.162, 0.122, 0.062, 0.056])]
b_humber_blue = [(">4", [0.341, 0.321, 0.315, 0.301, 0.281, 0.248, 0.235, 0.222, 0.202, 0.195]),
                 ("3-4", [0.335, 0.295, 0.268, 0.255, 0.228, 0.189, 0.162, 0.142, 0.102, 0.096])]
b_humber_grey = [[0.33, 0.38, 0.4, 0.41], [0.33, 0.36, 0.36, 0.37], [0.33, 0.32, 0.3, 0.29],
                 [0.33, 0.29, 0.24, 0.22], [0.33, 0.27, 0.2, 0.17], [0.33, 0.25, 0.17, 0.14],
                 [0.33, 0.23, 0.15, 0.11], [0.33, 0.22, 0.13, 0.08], [0.33, 0.21, 0.11, 0.06],
                 [0.33, 0.2, 0.1, 0.04]]

b_swengland_red = [(">4", [0.458, 0.438, 0.425, 0.418, 0.398, 0.372, 0.345, 0.305, 0.301, 0.299]),
                   (">4", [0.458, 0.398, 0.352, 0.319, 0.272, 0.232, 0.186, 0.139, 0.1, 0.053])]
b_swengland_blue = [(">4", [0.465, 0.451, 0.438, 0.418, 0.398, 0.372, 0.352, 0.312, 0.299, 0.246]),
                    ("3-4", [0.458, 0.392, 0.345, 0.312, 0.266, 0.226, 0.179, 0.133, 0.093, 0.046])]
b_swengland_grey = [[0.46, 0.53, 0.5, 0.52], [0.46, 0.49, 0.45, 0.45], [0.46, 0.44, 0.37, 0.34],
                    [0.46, 0.39, 0.3, 0.25], [0.46, 0.36, 0.25, 0.19], [0.46, 0.34, 0.21, 0.14],
                    [0.46, 0.32, 0.18, 0.1], [0.46, 0.3, 0.15, 0.07], [0.46, 0.29, 0.13, 0.04],
                    [0.46, 0.28, 0.11, 0.02]]

b_seengland_red = [(">4", [0.524, 0.518, 0.498, 0.458, 0.445, 0.418, 0.392, 0.365, 0.339, 0.305]),
                   (">4", [0.524, 0.498, 0.445, 0.425, 0.392, 0.365, 0.285, 0.272, 0.179, 0.086])]
b_seengland_blue = [(">4", [0.524, 0.511, 0.485, 0.451, 0.431, 0.398, 0.365, 0.332, 0.319, 0.312]),
                    ("3-4", [0.524, 0.491, 0.431, 0.412, 0.372, 0.345, 0.279, 0.259, 0.173, 0.086])]
b_seengland_grey = [[0.53, 0.57, 0.58, 0.58], [0.53, 0.54, 0.52, 0.51], [0.53, 0.48, 0.42, 0.38],
                    [0.53, 0.43, 0.33, 0.27], [0.53, 0.4, 0.27, 0.2], [0.53, 0.37, 0.22, 0.14],
                    [0.53, 0.35, 0.18, 0.09], [0.53, 0.33, 0.15, 0.05], [0.53, 0.31, 0.13, 0.03],
                    [0.53, 0.3, 0.12, 0.01]]

b_thames_red = [(">4", [0.471, 0.431, 0.358, 0.339, 0.345, 0.305, 0.285, 0.292, 0.299, 0.312]),
                (">4", [0.471, 0.418, 0.319, 0.259, 0.246, 0.192, 0.153, 0.133, 0.1, 0.053])]
b_thames_blue = [(">4", [0.485, 0.445, 0.365, 0.345, 0.312, 0.246, 0.232, 0.239, 0.239, 0.239]),
                 ("3-4", [0.471, 0.405, 0.299, 0.232, 0.206, 0.153, 0.113, 0.093, 0.066, 0.033])]
b_thames_grey = [[0.48, 0.5, 0.52, 0.53], [0.48, 0.46, 0.46, 0.46], [0.48, 0.4, 0.36, 0.34],
                 [0.48, 0.35, 0.28, 0.25], [0.48, 0.32, 0.22, 0.18], [0.48, 0.29, 0.18, 0.13],
                 [0.48, 0.27, 0.15, 0.09], [0.48, 0.25, 0.12, 0.05], [0.48, 0.23, 0.1, 0.03],
                 [0.48, 0.22, 0.09, 0.01]]

b_anglian_red = [("<3", [0.279, 0.246, 0.226, 0.219, 0.222, 0.226, 0.23, 0.235, 0.24, 0.245]),
                 (">4", [0.279, 0.246, 0.226, 0.219, 0.199, 0.179, 0.166, 0.166, 0.126, 0.113]),
                 (">4", [0.279, 0.219, 0.166, 0.146, 0.133, 0.113, 0.086, 0.066, 0.053, 0.04])]
b_anglian_blue = [("<3", [0.279, 0.246, 0.226, 0.219, 0.22, 0.224, 0.228, 0.233, 0.238, 0.243]),
                  (">4", [0.279, 0.24, 0.222, 0.212, 0.195, 0.175, 0.16, 0.16, 0.12, 0.108]),
                  ("3-4", [0.279, 0.215, 0.16, 0.14, 0.128, 0.108, 0.08, 0.06, 0.05, 0.035])]
b_anglian_grey = [[0.28, 0.3, 0.34, 0.36], [0.28, 0.28, 0.3, 0.31], [0.28, 0.25, 0.23, 0.22],
                  [0.28, 0.22, 0.18, 0.16], [0.28, 0.2, 0.14, 0.12], [0.28, 0.18, 0.12, 0.09],
                  [0.28, 0.17, 0.1, 0.07], [0.28, 0.15, 0.08, 0.05], [0.28, 0.14, 0.06, 0.03],
                  [0.28, 0.13, 0.05, 0.02]]

panels_a = [
    (a_argyll_red, a_argyll_blue, a_argyll_grey),
    (a_whighland_red, a_whighland_blue, a_whighland_grey),
    (a_nhighland_red, a_nhighland_blue, a_nhighland_grey),
    (a_nescotland_red, a_nescotland_blue, a_nescotland_grey),
    (a_tay_red, a_tay_blue, a_tay_grey),
    (a_solway_red, a_solway_blue, a_solway_grey),
    (a_clyde_red, a_clyde_blue, a_clyde_grey),
    (a_forth_red, a_forth_blue, a_forth_grey),
    (a_tweed_red, a_tweed_blue, a_tweed_grey),
    (a_northumbria_red, a_northumbria_blue, a_northumbria_grey),
    (a_wwales_red, a_wwales_blue, a_wwales_grey),
    (a_severn_red, a_severn_blue, a_severn_grey),
    (a_dee_red, a_dee_blue, a_dee_grey),
    (a_nwengland_red, a_nwengland_blue, a_nwengland_grey),
    (a_humber_red, a_humber_blue, a_humber_grey),
    (a_swengland_red, a_swengland_blue, a_swengland_grey),
    (a_seengland_red, a_seengland_blue, a_seengland_grey),
    (a_thames_red, a_thames_blue, a_thames_grey),
    (a_anglian_red, a_anglian_blue, a_anglian_grey),
]
panels_b = [
    (b_argyll_red, b_argyll_blue, b_argyll_grey),
    (b_whighland_red, b_whighland_blue, b_whighland_grey),
    (b_nhighland_red, b_nhighland_blue, b_nhighland_grey),
    (b_nescotland_red, b_nescotland_blue, b_nescotland_grey),
    (b_tay_red, b_tay_blue, b_tay_grey),
    (b_solway_red, b_solway_blue, b_solway_grey),
    (b_clyde_red, b_clyde_blue, b_clyde_grey),
    (b_forth_red, b_forth_blue, b_forth_grey),
    (b_tweed_red, b_tweed_blue, b_tweed_grey),
    (b_northumbria_red, b_northumbria_blue, b_northumbria_grey),
    (b_wwales_red, b_wwales_blue, b_wwales_grey),
    (b_severn_red, b_severn_blue, b_severn_grey),
    (b_dee_red, b_dee_blue, b_dee_grey),
    (b_nwengland_red, b_nwengland_blue, b_nwengland_grey),
    (b_humber_red, b_humber_blue, b_humber_grey),
    (b_swengland_red, b_swengland_blue, b_swengland_grey),
    (b_seengland_red, b_seengland_blue, b_seengland_grey),
    (b_thames_red, b_thames_blue, b_thames_grey),
    (b_anglian_red, b_anglian_blue, b_anglian_grey),
]

# ---------------------------------------------------------------- styles
W, H = 971, 1676
TITLE_FONT = "cmss10"
TITLE_SIZE = 20.5
LINESTYLE = {">4": "-", "3-4": (0, (2.4, 1.0)), "<3": (0, (0.7, 1.5))}
KEY_STYLE = {">4": "-", "3-4": "--", "<3": ":"}
RED, BLUE, GREY = "#ff0000", "#0000ff", "#bababa"

COL_LEFT = [73, 259.5, 446, 632.5, 819.5]
ROW_TOP_A = [45, 250, 454, 659]
ROW_TOP_B = [865, 1069, 1273, 1478]
AX_W, AX_H = 147, 151


def fig_rect(left, top, width, height):
    return [left / W, 1 - (top + height) / H, width / W, height / H]


def style_panel(ax, yticks):
    ax.set_xlim(1996, 2086)
    ax.set_ylim(yticks[0], yticks[-1])
    ax.set_xticks(xticks)
    ax.set_yticks(yticks)
    ax.tick_params(direction="in", length=8.5, width=1.5, top=True, right=True,
                   labelleft=False, labelbottom=False)
    for s in ax.spines.values():
        s.set_linewidth(1.8)


def draw_panel(ax, years, red, blue, grey):
    for g in grey:
        ax.plot(years_grey, g, color=GREY, lw=2.0, ls=(0, (1, 1.2)), zorder=1)
    for members, vals in blue:
        ax.plot(years, vals, color=BLUE, lw=3.0, ls=LINESTYLE[members], zorder=2)
    for members, vals in red:
        ax.plot(years, vals, color=RED, lw=3.8, ls=LINESTYLE[members],
                zorder=4 if members != ">4" else 3)


fig = plt.figure(figsize=(W / 100, H / 100), dpi=100)

for part, rows, years, panels, yticks in [
        ("a)", ROW_TOP_A, years_a, panels_a, yticks_a),
        ("b)", ROW_TOP_B, years_b, panels_b, yticks_b)]:
    for i, (name, (red, blue, grey)) in enumerate(zip(regions, panels)):
        if i < 15:
            r, c = divmod(i, 5)
        else:
            r, c = 3, i - 14
        left, top = COL_LEFT[c], rows[r]
        ax = fig.add_axes(fig_rect(left, top, AX_W, AX_H))
        style_panel(ax, yticks)
        draw_panel(ax, years, red, blue, grey)
        fig.text((left - 2) / W, 1 - (top - 14) / H, name, fontsize=TITLE_SIZE,
                 family=TITLE_FONT, va="baseline", ha="left")
    fig.text(10 / W, 1 - (rows[0] - 14) / H, part, fontsize=TITLE_SIZE,
             family=TITLE_FONT, va="baseline", ha="left")

    # small key axes with the scale
    lax = fig.add_axes(fig_rect(116.5, rows[3] + 11.5, 96, 100))
    lax.set_xlim(1996, 2086)
    lax.set_ylim(yticks[0], yticks[-1])
    lax.set_xticks(xticks)
    lax.set_yticks(yticks)
    lax.set_yticklabels([f"{v:.1f}" for v in yticks])
    lax.tick_params(direction="in", length=6, width=1.3, top=True, right=True,
                    labelsize=11, pad=2)
    lax.tick_params(axis="x", pad=5)
    for s in lax.spines.values():
        s.set_linewidth(1.6)
    lax.set_xlabel("Year", fontsize=12.5, labelpad=-2)
    lax.set_ylabel("Scaled mag.", fontsize=11.5, labelpad=0)

# bottom key
handles = [Line2D([], [], color="black", lw=3.3, ls=KEY_STYLE[m]) for m in member_classes]
fig.text(139 / W, 1 - 1662 / H, "Number of members:", fontsize=TITLE_SIZE,
         family=TITLE_FONT, va="center", ha="left")
fig.legend(handles, member_labels, loc="center left",
           bbox_to_anchor=(409 / W, 1 - 1662 / H), ncol=3, frameon=False,
           prop={"family": TITLE_FONT, "size": TITLE_SIZE}, handlelength=1.9,
           handletextpad=0.45, columnspacing=0.9, borderpad=0, borderaxespad=0)

fig.savefig("out.png", dpi=100)
